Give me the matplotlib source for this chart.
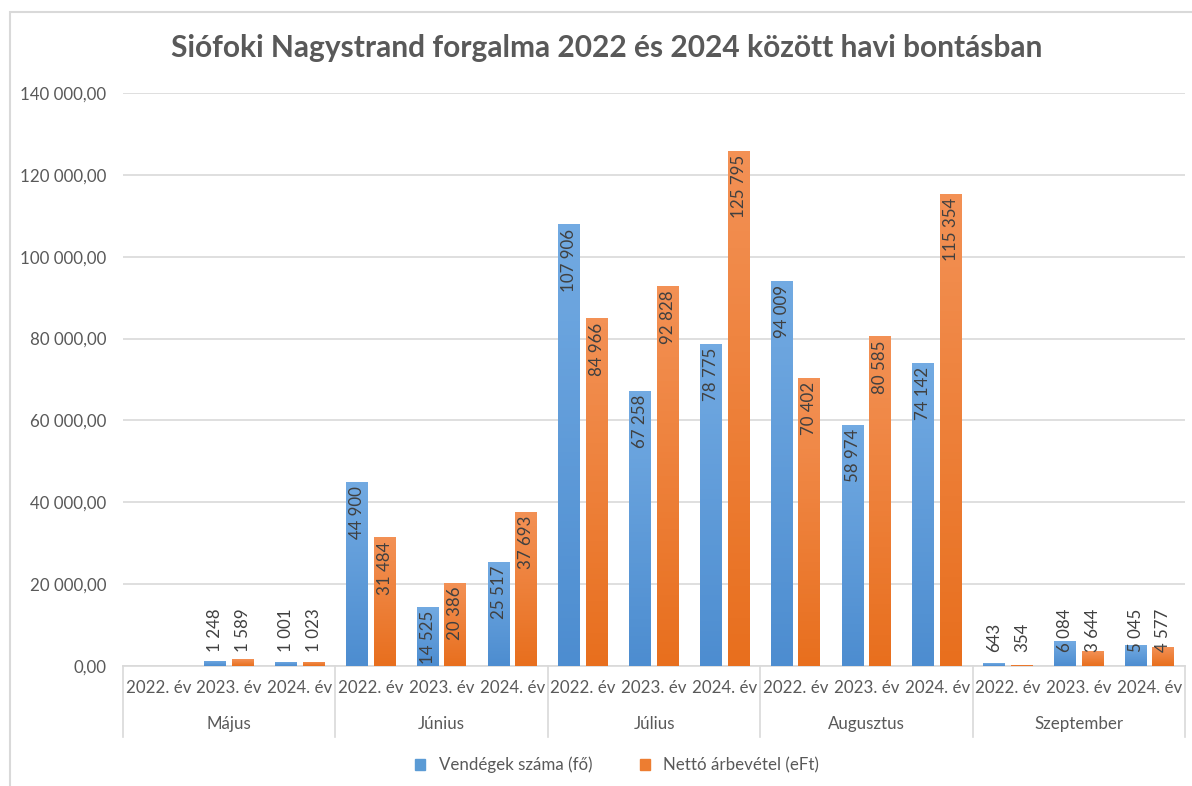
import numpy as np
import matplotlib
matplotlib.use("Agg")
import matplotlib.pyplot as plt
import matplotlib.transforms as mtransforms
from matplotlib.patches import Patch, Rectangle

plt.rcParams['font.family'] = ['Lato', 'DejaVu Sans']

# adatok
months = ['Május', 'Június', 'Július', 'Augusztus', 'Szeptember']
years = ['2022. év', '2023. év', '2024. év']
vendegek = [np.nan, 1248, 1001,
            44900, 14525, 25517,
            107906, 67258, 78775,
            94009, 58974, 74142,
            643, 6084, 5045]
netto = [np.nan, 1589, 1023,
         31484, 20386, 37693,
         84966, 92828, 125795,
         70402, 80585, 115354,
         354, 3644, 4577]
series_names = ['Vendégek száma (fő)', 'Nettó árbevétel (eFt)']
title = 'Siófoki Nagystrand forgalma 2022 és 2024 között havi bontásban'

txt_col = '#595959'
lbl_col = '#404040'
grid_col = '#d9d9d9'
fs = 12.2

fig = plt.figure(figsize=(11.92, 7.86), dpi=100)
ax = fig.add_axes([123 / 1192, 120 / 786, (1185 - 123) / 1192, (693 - 120) / 786])

# keret
fig.patches.append(Rectangle((10 / 1192, -0.05), 1.1, 1 - 12 / 786 + 0.05,
                             transform=fig.transFigure, fill=False,
                             edgecolor=grid_col, lw=1.5))

n = len(vendegek)
x = np.arange(n)
w = 0.31
off = 0.195


def grad_bars(xpos, vals, top, bottom):
    bars = ax.bar(xpos, np.nan_to_num(vals), w, color=bottom, zorder=3)
    cmap = matplotlib.colors.LinearSegmentedColormap.from_list('g', [bottom, top])
    grad = np.linspace(0, 1, 64).reshape(-1, 1)
    for b in bars:
        if b.get_height() <= 0:
            continue
        x0, y0 = b.get_x(), b.get_y()
        im = ax.imshow(grad, cmap=cmap, origin='lower', aspect='auto',
                       extent=(x0, x0 + b.get_width(), y0, y0 + b.get_height()),
                       zorder=3.5)
        im.set_clip_path(b)
    return bars


grad_bars(x - off, vendegek, '#72aae2', '#4d8dd0')
grad_bars(x + off, netto, '#f39155', '#e86f1e')


def fmt(v):
    return f'{v:,.0f}'.replace(',', ' ')


for xs, vals in ((x - off, vendegek), (x + off, netto)):
    for xi, v in zip(xs, vals):
        if np.isnan(v):
            continue
        if v >= 10000:
            ax.annotate(fmt(v), (xi, v), xytext=(0, -3), textcoords='offset points',
                        rotation=90, ha='center', va='top', fontsize=fs,
                        color=lbl_col, zorder=5)
        else:
            ax.annotate(fmt(v), (xi, 0), xytext=(0, 10), textcoords='offset points',
                        rotation=90, ha='center', va='bottom', fontsize=fs,
                        color=lbl_col, zorder=5)

ax.set_xlim(-0.5, n - 0.5)
ax.set_ylim(0, 140000)
yt = np.arange(0, 140001, 20000)
ax.set_yticks(yt)
ax.set_yticklabels([f'{v:,.2f}'.replace(',', ' ').replace('.', ',') for v in yt])
ax.tick_params(axis='y', length=0, pad=12, labelsize=fs, labelcolor=txt_col)
ax.set_xticks([])
ax.grid(axis='y', color=grid_col, lw=1.2, zorder=0)
for s in ['top', 'right', 'left']:
    ax.spines[s].set_visible(False)
ax.spines['bottom'].set_color(grid_col)
ax.spines['bottom'].set_linewidth(1.2)

# többszintű kategóriatengely
trans = mtransforms.blended_transform_factory(ax.transData, ax.transAxes)
ah = 573.0
for i in range(n):
    ax.text(i, -22 / ah, years[i % 3], transform=trans, ha='center', va='center',
            fontsize=fs, color=txt_col)
for m, name in enumerate(months):
    ax.text(3 * m + 1, -58 / ah, name, transform=trans, ha='center', va='center',
            fontsize=fs, color=txt_col)
for b in np.arange(-0.5, n, 3):
    ax.plot([b, b], [0, -71 / ah], transform=trans, color=grid_col, lw=1.2,
            clip_on=False)

fig.text(607 / 1192, 1 - 48 / 786, title, ha='center', va='center',
         fontsize=21.5, fontweight='bold', color=txt_col)

handles = [Patch(color='#5b9bd5'), Patch(color='#ed7d31')]
fig.legend(handles, series_names, loc='center', bbox_to_anchor=(617 / 1192, 1 - 765 / 786),
           ncol=2, frameon=False, handlelength=0.6, handleheight=0.6,
           columnspacing=2.8, fontsize=fs, labelcolor=txt_col)

fig.savefig('out.png', dpi=100)
